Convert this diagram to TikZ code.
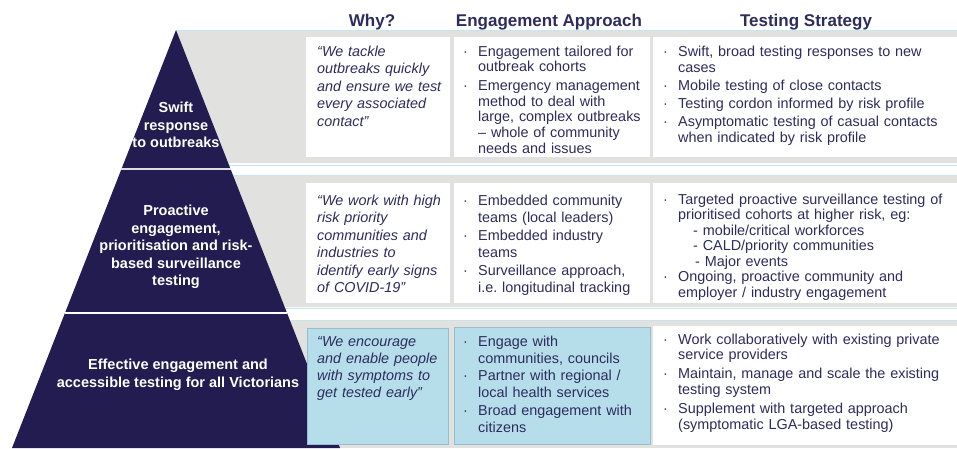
\documentclass[tikz,border=0pt]{standalone}
\usepackage{fontspec}
\setmainfont{Liberation Sans}
\usepackage{xcolor}
\usepackage{tikz}
\usetikzlibrary{calc}

\definecolor{pyrnavy}{RGB}{34,28,80}
\definecolor{txtnavy}{RGB}{44,44,94}
\definecolor{bandgray}{RGB}{225,225,224}
\definecolor{rulblue}{RGB}{200,228,237}
\definecolor{boxblue}{RGB}{182,222,234}
\definecolor{boxedge}{RGB}{150,190,208}

% bullet items with hanging indent
\newcommand{\bul}{\hangindent=15pt\hangafter=1\noindent\makebox[15pt][l]{·}\ignorespaces}
\newcommand{\nbul}[1][3pt]{\par\vspace{#1}\bul}

\tikzset{
  hdr/.style={font=\bfseries\fontsize{17}{20}\selectfont, text=txtnavy, anchor=base, inner sep=0pt},
  pyrtext/.style={font=\bfseries\fontsize{14.5}{17.5}\selectfont, text=white, align=center, inner sep=0pt},
  quote/.style={font=\itshape\fontsize{14.4}{#1}\selectfont, text=txtnavy, text width=134pt, align=left, anchor=base west, inner sep=0pt},
  quote/.default=17.5,
  list/.style={font=\fontsize{14.4}{#1}\selectfont, text=txtnavy, align=left, anchor=base west, inner sep=0pt},
  list/.default=16,
  band/.style={fill=bandgray},
  rul/.style={draw=rulblue, line width=1pt},
  whitebox/.style={fill=white},
  bluebox/.style={fill=boxblue, draw=boxedge, line width=0.6pt},
}

\begin{document}
\begin{tikzpicture}[x=1pt,y=-1pt]
    \useasboundingbox (0,0) rectangle (957,448);

    % Bands behind the rows
    \fill[band] (176,31) rectangle (957,163);
    \fill[band] (176,175) rectangle (957,307);
    \fill[band] (176,320) rectangle (957,448);
    \draw[rul] (176,30.5) -- (957,30.5);
    \draw[rul] (176,165) -- (957,165);
    \draw[rul] (176,175) -- (957,175);
    \draw[rul] (176,308) -- (957,308);
    \draw[rul] (176,320) -- (957,320);

    % Pyramid
    \coordinate (apex) at (176,30);
    \coordinate (bl) at (12,448);
    \coordinate (br) at (340,448);
    \fill[pyrnavy] (apex) -- (br) -- (bl) -- cycle;
    \draw[white!85!pyrnavy, line width=1.2pt] ($(apex)!0.3325!(bl)$) -- ($(apex)!0.3325!(br)$);
    \draw[white, line width=1.2pt] ($(apex)!0.677!(bl)$) -- ($(apex)!0.677!(br)$);

    \node[pyrtext] (lvl1) at (176,125) {Swift\\response\\to outbreaks};
    \node[pyrtext] (lvl2) at (176,247) {Proactive\\engagement,\\prioritisation and risk-\\based surveillance\\testing};
    \node[pyrtext] (lvl3) at (178,375) {Effective engagement and\\accessible testing for all Victorians};

    % Headers
    \node[hdr] (hwhy) at (372,26) {Why?};
    \node[hdr] (heng) at (549,26) {Engagement Approach};
    \node[hdr] (htest) at (806,26) {Testing Strategy};

    % Row 1
    \fill[whitebox] (306,37) rectangle (450,157);
    \fill[whitebox] (454,37) rectangle (650,157);
    \fill[whitebox] (653,37) rectangle (957,157);
    \node[quote] (why1) at (317,56) {“We tackle\newline outbreaks quickly\newline and ensure we test\newline every associated\newline contact”};
    \node[list=15.7, text width=186pt] (eng1) at (463,56) {\bul Engagement tailored for\newline outbreak cohorts
      \nbul Emergency management\newline method to deal with\newline large, complex outbreaks\newline – whole of community\newline needs and issues\par};
    \node[list, text width=290pt] (test1) at (663,56) {\bul Swift, broad testing responses to new\newline cases
      \nbul[2pt] Mobile testing of close contacts
      \nbul[2pt] Testing cordon informed by risk profile
      \nbul[2pt] Asymptomatic testing of casual contacts\newline when indicated by risk profile\par};

    % Row 2
    \fill[whitebox] (306,183) rectangle (450,303);
    \fill[whitebox] (454,183) rectangle (650,303);
    \fill[whitebox] (653,183) rectangle (957,303);
    \node[quote] (why2) at (317,205) {“We work with high\newline risk priority\newline communities and\newline industries to\newline identify early signs\newline of COVID-19”};
    \node[list=17.5, text width=186pt] (eng2) at (463,205) {\bul Embedded community\newline teams (local leaders)
      \nbul[0pt] Embedded industry\newline teams
      \nbul[0pt] Surveillance approach,\newline i.e.\ longitudinal tracking\par};
    \node[list=15.5, text width=290pt] (test2) at (663,204) {\bul Targeted proactive surveillance testing of\newline prioritised cohorts at higher risk, eg:\newline
      \hspace*{15pt}- mobile/critical workforces\newline
      \hspace*{15pt}- CALD/priority communities\newline
      \hspace*{17pt}- Major events
      \nbul[0pt] Ongoing, proactive community and\newline employer / industry engagement\par};

    % Row 3
    \draw[bluebox] (307,328) rectangle (448,444);
    \draw[bluebox] (454,327) rectangle (650,444);
    \fill[whitebox] (653,326) rectangle (957,445);
    \node[quote=17.2] (why3) at (317,346) {“We encourage\newline and enable people\newline with symptoms to\newline get tested early”};
    \node[list=17.3, text width=186pt] (eng3) at (463,346) {\bul Engage with\newline communities, councils
      \nbul[0pt] Partner with regional /\newline local health services
      \nbul[0pt] Broad engagement with\newline citizens\par};
    \node[list=15.7, text width=290pt] (test3) at (663,344) {\bul Work collaboratively with existing private\newline service providers
      \nbul[3.3pt] Maintain, manage and scale the existing\newline testing system
      \nbul[3.3pt] Supplement with targeted approach\newline (symptomatic LGA-based testing)\par};
\end{tikzpicture}
\end{document}
